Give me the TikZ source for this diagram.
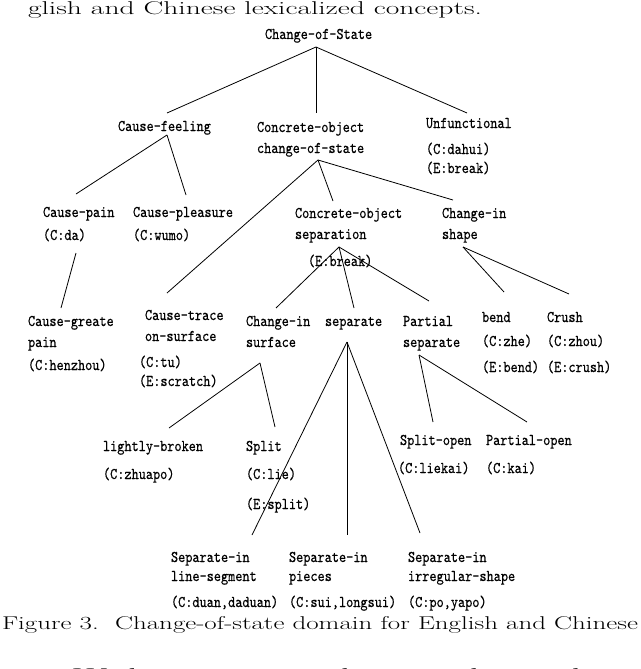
\documentclass[tikz,border=0pt]{standalone}
\usepackage{fontspec}
\usepackage{graphicx}
\newfontfamily\lmmonocond{lmmono10-regular.otf}[FakeStretch=0.83,FakeBold=0.4]
\newcommand\nodefnt{\lmmonocond\fontsize{16.4}{19}\selectfont}
\newcommand\bodyfnt{\rmfamily\fontsize{18.5}{22}\selectfont}
\begin{document}
\begin{tikzpicture}[x=1pt,y=-1pt,
  lbl/.style={font=\nodefnt, anchor=base west, inner sep=0pt, outer sep=0pt},
  body/.style={font=\bodyfnt, anchor=base west, inner sep=0pt, outer sep=0pt},
  edge/.style={draw=black, line width=0.8pt}]
\useasboundingbox (0,0) rectangle (640,669);
\clip (0,0) rectangle (640,669);
% running text
\node[body] (toptext) at (28,15) {\resizebox{454pt}{\height}{glish and Chinese lexicalized concepts.}};
\node[body] (caption) at (2,629) {\resizebox{636pt}{\height}{Figure 3.\ \ Change-of-state domain for English and Chinese}};
\node[body] (nextline) at (73,681) {\resizebox{575pt}{\height}{Within a concept domain, the similarity}};
% concept labels
\node[lbl] (root) at (265,39) {Change-of-State};
\node[lbl] (cf) at (118,131) {Cause-feeling};
\node[lbl] (co) at (257,132) {Concrete-object};
\node[lbl] (co2) at (257,153) {change-of-state};
\node[lbl] (unf) at (426,128) {Unfunctional};
\node[lbl] (unfC) at (426,154) {(C:dahui)};
\node[lbl] (unfE) at (426,173) {(E:break)};
\node[lbl] (cpain) at (43,217) {Cause-pain};
\node[lbl] (cpainC) at (43,240) {(C:da)};
\node[lbl] (cpl) at (133,217) {Cause-pleasure};
\node[lbl] (cplC) at (133,240) {(C:wumo)};
\node[lbl] (cos) at (295,218) {Concrete-object};
\node[lbl] (cos2) at (295,239) {separation};
\node[lbl] (cosE) at (308,266) {(E:break)};
\node[lbl] (cis) at (442,218) {Change-in};
\node[lbl] (cis2) at (442,239) {shape};
\node[lbl] (cgp) at (28,326) {Cause-greate};
\node[lbl] (cgp2) at (28,347) {pain};
\node[lbl] (cgpC) at (28,370) {(C:henzhou)};
\node[lbl] (ctr) at (145,320) {Cause-trace};
\node[lbl] (ctr2) at (145,341) {on-surface};
\node[lbl] (ctrC) at (139,367) {(C:tu)};
\node[lbl] (ctrE) at (139,386) {(E:scratch)};
\node[lbl] (cisu) at (246,326) {Change-in};
\node[lbl] (cisu2) at (246,347) {surface};
\node[lbl] (sep) at (325,326) {separate};
\node[lbl] (ps) at (403,326) {Partial};
\node[lbl] (ps2) at (403,347) {separate};
\node[lbl] (bend) at (482,322) {bend};
\node[lbl] (bendC) at (482,346) {(C:zhe)};
\node[lbl] (bendE) at (482,372) {(E:bend)};
\node[lbl] (crush) at (547,322) {Crush};
\node[lbl] (crushC) at (547,346) {(C:zhou)};
\node[lbl] (crushE) at (547,372) {(E:crush)};
\node[lbl] (lb) at (103,451) {lightly-broken};
\node[lbl] (lbC) at (103,479) {(C:zhuapo)};
\node[lbl] (split) at (246,451) {Split};
\node[lbl] (splitC) at (246,479) {(C:lie)};
\node[lbl] (splitE) at (246,509) {(E:split)};
\node[lbl] (so) at (400,445) {Split-open};
\node[lbl] (soC) at (398,473) {(C:liekai)};
\node[lbl] (po) at (486,445) {Partial-open};
\node[lbl] (poC) at (486,473) {(C:kai)};
\node[lbl] (sil) at (171,562) {Separate-in};
\node[lbl] (sil2) at (171,581) {line-segment};
\node[lbl] (silC) at (171,607) {(C:duan,daduan)};
\node[lbl] (sip) at (289,562) {Separate-in};
\node[lbl] (sip2) at (289,581) {pieces};
\node[lbl] (sipC) at (289,607) {(C:sui,longsui)};
\node[lbl] (sii) at (408,562) {Separate-in};
\node[lbl] (sii2) at (408,581) {irregular-shape};
\node[lbl] (siiC) at (408,607) {(C:po,yapo)};
% connection points
\path (root.base west) ++(51,8) coordinate (rootB);
\path (cf.base west) ++(49,-18) coordinate (cfT) ++(0,22) coordinate (cfB);
\path (co.base west) ++(59,-19) coordinate (coT);
\path (co.base west) ++(61,28) coordinate (coB);
\path (unf.base west) ++(41,-15) coordinate (unfT);
\path (cpain.base west) ++(33,-23) coordinate (cpainT);
\path (cpain.base west) ++(33,36) coordinate (cpainB);
\path (cpl.base west) ++(53,-22) coordinate (cplT);
\path (cos.base west) ++(38,-17) coordinate (cosT);
\path (cos.base west) ++(44,29) coordinate (cosB);
\path (cis.base west) ++(11,-18) coordinate (cisT);
\path (cis.base west) ++(21,29) coordinate (cisB);
\path (cgp.base west) ++(33,-18) coordinate (cgpT);
\path (ctr.base west) ++(22,-27) coordinate (ctrT);
\path (cisu.base west) ++(30,-18) coordinate (cisuT);
\path (cisu.base west) ++(14,37) coordinate (cisuB);
\path (sep.base west) ++(29,-18) coordinate (sepT);
\path (sep.base west) ++(22,16) coordinate (sepB);
\path (ps.base west) ++(26,-25) coordinate (psT);
\path (ps.base west) ++(16,29) coordinate (psB);
\path (bend.base west) ++(22,-30) coordinate (bendT);
\path (crush.base west) ++(22,-28) coordinate (crushT);
\path (lb.base west) ++(66,-23) coordinate (lbT);
\path (split.base west) ++(29,-24) coordinate (splitT);
\path (so.base west) ++(33,-23) coordinate (soT);
\path (po.base west) ++(41,-23) coordinate (poT);
\path (sil.base west) ++(81,-27) coordinate (silT);
\path (sip.base west) ++(58,-27) coordinate (sipT);
\path (sii.base west) ++(12,-29) coordinate (siiT);
% connectors
\draw[edge] (rootB) -- (cfT);
\draw[edge] (rootB) -- (coT);
\draw[edge] (rootB) -- (unfT);
\draw[edge] (cfB) -- (cpainT);
\draw[edge] (cfB) -- (cplT);
\draw[edge] (coB) -- (ctrT);
\draw[edge] (coB) -- (cosT);
\draw[edge] (coB) -- (cisT);
\draw[edge] (cpainB) -- (cgpT);
\draw[edge] (cosB) -- (cisuT);
\draw[edge] (cosB) -- (sepT);
\draw[edge] (cosB) -- (psT);
\draw[edge] (cisB) -- (bendT);
\draw[edge] (cisB) -- (crushT);
\draw[edge] (cisuB) -- (lbT);
\draw[edge] (cisuB) -- (splitT);
\draw[edge] (sepB) -- (silT);
\draw[edge] (sepB) -- (sipT);
\draw[edge] (sepB) -- (siiT);
\draw[edge] (psB) -- (soT);
\draw[edge] (psB) -- (poT);
\end{tikzpicture}
\end{document}
